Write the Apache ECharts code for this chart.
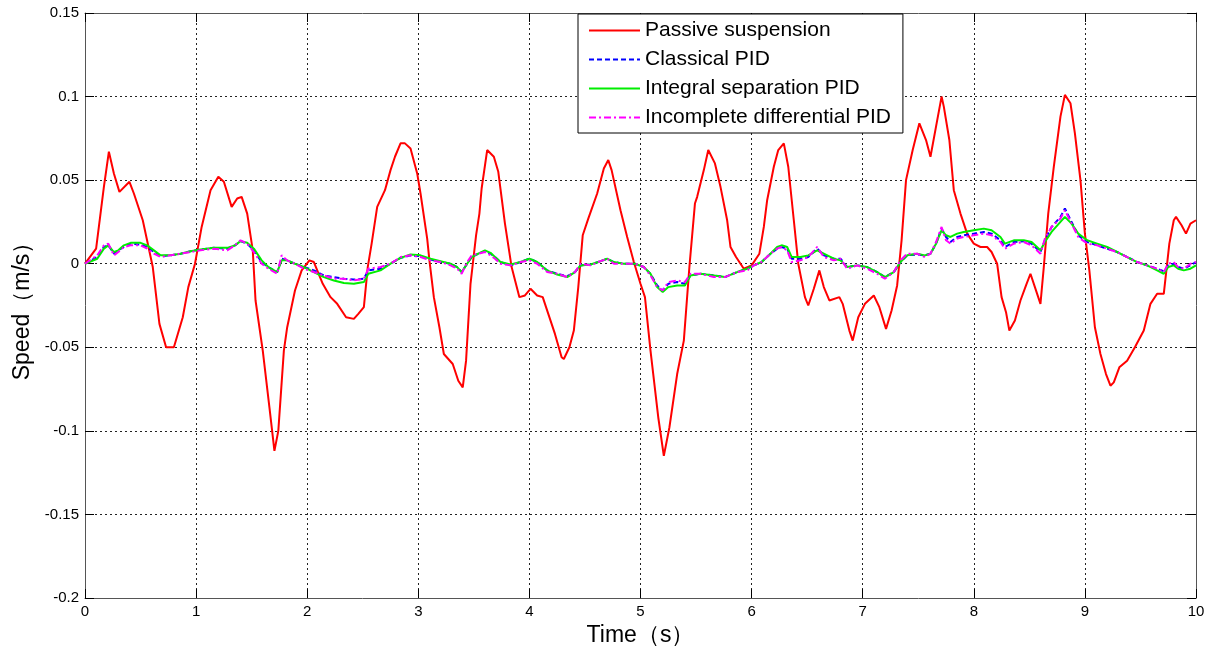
<!DOCTYPE html>
<html>
<head>
<meta charset="utf-8">
<script src="https://cdn.jsdelivr.net/npm/echarts@6/dist/echarts.min.js"></script>
<style>html,body{margin:0;padding:0;background:#fff}#c{width:1210px;height:653px}</style>
</head>
<body>
<div id="c"></div>
<script>
var seriesNames = ['Passive suspension', 'Classical PID', 'Integral separation PID', 'Incomplete differential PID'];
var xTicks = [0,1,2,3,4,5,6,7,8,9,10];

var passive = [[0,0],[0.1,0.009],[0.17,0.046],[0.215,0.067],[0.26,0.054],[0.31,0.043],[0.4,0.049],[0.44,0.042],[0.52,0.026],[0.61,-0.002],[0.67,-0.036],[0.73,-0.050],[0.8,-0.050],[0.88,-0.032],[0.93,-0.014],[0.99,0],[1.05,0.022],[1.13,0.044],[1.2,0.052],[1.25,0.049],[1.32,0.034],[1.37,0.039],[1.41,0.040],[1.46,0.030],[1.51,0.008],[1.535,-0.022],[1.6,-0.052],[1.66,-0.086],[1.705,-0.112],[1.74,-0.10],[1.79,-0.052],[1.82,-0.038],[1.89,-0.016],[1.95,-0.004],[2.02,0.002],[2.06,0.001],[2.14,-0.012],[2.21,-0.020],[2.27,-0.024],[2.35,-0.032],[2.42,-0.033],[2.46,-0.030],[2.51,-0.026],[2.545,-0.002],[2.58,0.012],[2.63,0.034],[2.7,0.044],[2.75,0.056],[2.79,0.064],[2.84,0.072],[2.88,0.072],[2.93,0.069],[2.99,0.054],[3.02,0.042],[3.08,0.015],[3.1,0.002],[3.14,-0.020],[3.19,-0.038],[3.23,-0.054],[3.31,-0.060],[3.36,-0.070],[3.4,-0.074],[3.43,-0.058],[3.47,-0.012],[3.52,0.017],[3.55,0.030],[3.57,0.045],[3.62,0.068],[3.68,0.064],[3.72,0.055],[3.78,0.024],[3.84,-0.002],[3.91,-0.020],[3.96,-0.019],[4.01,-0.015],[4.07,-0.019],[4.12,-0.020],[4.17,-0.030],[4.23,-0.042],[4.29,-0.056],[4.31,-0.057],[4.36,-0.050],[4.4,-0.040],[4.44,-0.014],[4.48,0.017],[4.53,0.027],[4.61,0.042],[4.67,0.057],[4.71,0.062],[4.74,0.056],[4.82,0.032],[4.88,0.016],[4.94,0.001],[5.0,-0.012],[5.04,-0.020],[5.09,-0.052],[5.16,-0.092],[5.21,-0.115],[5.26,-0.098],[5.33,-0.066],[5.39,-0.046],[5.44,-0.002],[5.49,0.036],[5.51,0.040],[5.57,0.056],[5.61,0.068],[5.67,0.060],[5.72,0.046],[5.78,0.026],[5.81,0.010],[5.86,0.004],[5.93,-0.003],[6.0,-0.001],[6.07,0.006],[6.11,0.022],[6.14,0.038],[6.2,0.058],[6.24,0.068],[6.29,0.072],[6.33,0.058],[6.38,0.026],[6.42,0.0],[6.48,-0.020],[6.51,-0.025],[6.56,-0.015],[6.61,-0.004],[6.65,-0.014],[6.7,-0.022],[6.79,-0.020],[6.82,-0.024],[6.88,-0.040],[6.91,-0.046],[6.96,-0.032],[7.02,-0.024],[7.1,-0.019],[7.15,-0.026],[7.21,-0.039],[7.26,-0.028],[7.31,-0.013],[7.35,0.014],[7.39,0.050],[7.45,0.068],[7.51,0.084],[7.57,0.074],[7.61,0.064],[7.66,0.082],[7.71,0.100],[7.73,0.094],[7.78,0.074],[7.82,0.044],[7.88,0.030],[7.94,0.018],[8.0,0.012],[8.06,0.010],[8.12,0.010],[8.16,0.007],[8.21,0.0],[8.25,-0.020],[8.29,-0.029],[8.32,-0.040],[8.37,-0.034],[8.42,-0.022],[8.47,-0.013],[8.51,-0.006],[8.55,-0.014],[8.6,-0.024],[8.63,-0.002],[8.67,0.030],[8.72,0.058],[8.78,0.088],[8.82,0.101],[8.87,0.096],[8.91,0.078],[8.96,0.050],[9.0,0.018],[9.04,-0.004],[9.09,-0.038],[9.14,-0.054],[9.19,-0.066],[9.23,-0.073],[9.26,-0.071],[9.31,-0.062],[9.38,-0.058],[9.45,-0.050],[9.53,-0.040],[9.59,-0.024],[9.65,-0.018],[9.71,-0.018],[9.76,0.012],[9.8,0.026],[9.82,0.028],[9.87,0.023],[9.91,0.018],[9.95,0.024],[10,0.026]];

var classical = [[0,0],[0.11,0.004],[0.17,0.010],[0.21,0.011],[0.26,0.006],[0.3,0.008],[0.35,0.010],[0.41,0.012],[0.5,0.0115],[0.56,0.010],[0.62,0.007],[0.68,0.0045],[0.77,0.005],[0.86,0.006],[0.95,0.0075],[1.04,0.0085],[1.16,0.0095],[1.28,0.009],[1.35,0.011],[1.4,0.0135],[1.46,0.012],[1.52,0.008],[1.59,0.001],[1.65,-0.002],[1.73,-0.005],[1.77,0.003],[1.82,0.002],[1.89,0],[1.97,-0.002],[2.06,-0.004],[2.15,-0.007],[2.24,-0.008],[2.33,-0.009],[2.42,-0.0095],[2.51,-0.009],[2.55,-0.004],[2.66,-0.003],[2.75,0],[2.84,0.0035],[2.93,0.005],[3.02,0.0045],[3.11,0.0025],[3.2,0.001],[3.29,0],[3.35,-0.002],[3.39,-0.005],[3.44,0],[3.48,0.004],[3.54,0.006],[3.6,0.0075],[3.65,0.006],[3.69,0.004],[3.74,0.001],[3.83,-0.001],[3.92,0.001],[4.0,0.003],[4.07,0.001],[4.16,-0.004],[4.25,-0.006],[4.34,-0.0075],[4.41,-0.005],[4.46,-0.001],[4.55,-0.0005],[4.62,0.001],[4.7,0.003],[4.76,0.001],[4.85,0],[4.95,0],[5.03,-0.002],[5.09,-0.006],[5.15,-0.013],[5.2,-0.016],[5.25,-0.012],[5.33,-0.011],[5.4,-0.012],[5.45,-0.007],[5.54,-0.006],[5.66,-0.007],[5.76,-0.008],[5.87,-0.005],[5.96,-0.003],[6.02,-0.001],[6.09,0.001],[6.17,0.006],[6.23,0.009],[6.27,0.010],[6.32,0.009],[6.36,0.003],[6.44,0.003],[6.51,0.004],[6.59,0.009],[6.65,0.005],[6.74,0.003],[6.8,0.003],[6.86,-0.002],[6.95,-0.001],[7.04,-0.002],[7.13,-0.005],[7.2,-0.008],[7.28,-0.005],[7.34,0.001],[7.4,0.005],[7.49,0.0055],[7.56,0.005],[7.61,0.006],[7.66,0.012],[7.71,0.021],[7.75,0.016],[7.79,0.013],[7.85,0.016],[7.91,0.017],[8.0,0.018],[8.09,0.019],[8.16,0.018],[8.24,0.014],[8.28,0.010],[8.36,0.013],[8.45,0.0135],[8.52,0.012],[8.6,0.007],[8.64,0.014],[8.7,0.022],[8.78,0.028],[8.82,0.033],[8.88,0.025],[8.94,0.017],[9.02,0.013],[9.11,0.011],[9.2,0.009],[9.29,0.007],[9.38,0.004],[9.47,0.001],[9.56,-0.001],[9.65,-0.003],[9.71,-0.0045],[9.75,-0.001],[9.8,0],[9.84,-0.002],[9.89,-0.003],[9.95,-0.001],[10,0.001]];

var integralSep = [[0,0],[0.11,0.003],[0.17,0.009],[0.21,0.011],[0.26,0.007],[0.3,0.008],[0.35,0.011],[0.41,0.0125],[0.5,0.0125],[0.56,0.011],[0.62,0.008],[0.68,0.005],[0.77,0.005],[0.86,0.006],[0.95,0.0075],[1.04,0.0085],[1.16,0.0095],[1.28,0.0095],[1.35,0.011],[1.4,0.0135],[1.46,0.0125],[1.52,0.009],[1.59,0.002],[1.65,-0.002],[1.73,-0.005],[1.77,0.002],[1.82,0.002],[1.89,0],[1.97,-0.002],[2.06,-0.005],[2.15,-0.008],[2.24,-0.010],[2.33,-0.0115],[2.42,-0.012],[2.51,-0.011],[2.55,-0.006],[2.66,-0.004],[2.75,0],[2.84,0.0035],[2.93,0.0055],[3.02,0.005],[3.11,0.003],[3.2,0.0015],[3.29,0],[3.35,-0.002],[3.39,-0.005],[3.44,0],[3.48,0.004],[3.54,0.006],[3.6,0.008],[3.65,0.0065],[3.69,0.004],[3.74,0.001],[3.83,-0.0005],[3.92,0.001],[4.0,0.003],[4.07,0.001],[4.16,-0.004],[4.25,-0.0065],[4.34,-0.008],[4.41,-0.005],[4.46,-0.001],[4.55,-0.0005],[4.62,0.001],[4.7,0.003],[4.76,0.001],[4.85,0],[4.95,0],[5.03,-0.002],[5.09,-0.006],[5.15,-0.014],[5.2,-0.017],[5.25,-0.014],[5.33,-0.013],[5.4,-0.013],[5.45,-0.007],[5.54,-0.006],[5.66,-0.007],[5.76,-0.008],[5.87,-0.005],[5.96,-0.003],[6.02,-0.001],[6.09,0.001],[6.17,0.006],[6.23,0.010],[6.27,0.011],[6.32,0.010],[6.36,0.004],[6.44,0.004],[6.51,0.005],[6.59,0.008],[6.65,0.006],[6.74,0.003],[6.8,0.002],[6.86,-0.002],[6.95,-0.001],[7.04,-0.002],[7.13,-0.005],[7.2,-0.008],[7.28,-0.005],[7.34,0.001],[7.4,0.005],[7.49,0.006],[7.56,0.005],[7.61,0.006],[7.66,0.012],[7.71,0.020],[7.75,0.017],[7.79,0.016],[7.85,0.018],[7.91,0.019],[8.0,0.020],[8.09,0.021],[8.16,0.020],[8.24,0.016],[8.28,0.012],[8.36,0.014],[8.45,0.014],[8.52,0.013],[8.6,0.008],[8.64,0.013],[8.7,0.019],[8.78,0.025],[8.82,0.028],[8.88,0.024],[8.94,0.018],[9.02,0.014],[9.11,0.012],[9.2,0.010],[9.29,0.007],[9.38,0.004],[9.47,0.001],[9.56,-0.001],[9.65,-0.004],[9.71,-0.006],[9.75,-0.002],[9.8,-0.001],[9.84,-0.003],[9.89,-0.004],[9.95,-0.003],[10,-0.001]];

var incomplete = [[0,0],[0.11,0.005],[0.17,0.011],[0.21,0.012],[0.26,0.005],[0.3,0.007],[0.35,0.010],[0.41,0.011],[0.5,0.011],[0.56,0.009],[0.62,0.006],[0.68,0.004],[0.77,0.005],[0.86,0.006],[0.95,0.007],[1.04,0.008],[1.16,0.009],[1.28,0.008],[1.35,0.011],[1.4,0.014],[1.46,0.012],[1.52,0.007],[1.59,0.0],[1.65,-0.003],[1.73,-0.006],[1.77,0.005],[1.82,0.002],[1.89,0],[1.97,-0.003],[2.06,-0.005],[2.15,-0.007],[2.24,-0.009],[2.33,-0.009],[2.42,-0.010],[2.51,-0.009],[2.55,-0.003],[2.66,-0.002],[2.75,0],[2.84,0.004],[2.93,0.005],[3.02,0.004],[3.11,0.002],[3.2,0.001],[3.29,-0.001],[3.35,-0.003],[3.39,-0.006],[3.44,0.001],[3.48,0.005],[3.54,0.006],[3.6,0.007],[3.65,0.005],[3.69,0.003],[3.74,0.0],[3.83,-0.001],[3.92,0.001],[4.0,0.002],[4.07,0.0],[4.16,-0.005],[4.25,-0.006],[4.34,-0.008],[4.41,-0.005],[4.46,0.0],[4.55,-0.001],[4.62,0.001],[4.7,0.003],[4.76,0.0],[4.85,0],[4.95,0],[5.03,-0.002],[5.09,-0.007],[5.15,-0.014],[5.2,-0.016],[5.25,-0.011],[5.33,-0.010],[5.4,-0.011],[5.45,-0.006],[5.54,-0.006],[5.66,-0.008],[5.76,-0.008],[5.87,-0.005],[5.96,-0.004],[6.02,-0.001],[6.09,0.001],[6.17,0.006],[6.23,0.009],[6.27,0.010],[6.32,0.008],[6.36,0.001],[6.44,0.002],[6.51,0.004],[6.59,0.010],[6.65,0.004],[6.74,0.002],[6.8,0.003],[6.86,-0.003],[6.95,-0.001],[7.04,-0.003],[7.13,-0.006],[7.2,-0.009],[7.28,-0.005],[7.34,0.002],[7.4,0.006],[7.49,0.006],[7.56,0.004],[7.61,0.006],[7.66,0.013],[7.71,0.022],[7.75,0.014],[7.79,0.012],[7.85,0.015],[7.91,0.016],[8.0,0.017],[8.09,0.018],[8.16,0.017],[8.24,0.013],[8.28,0.009],[8.36,0.012],[8.45,0.013],[8.52,0.011],[8.6,0.006],[8.64,0.015],[8.7,0.022],[8.78,0.027],[8.82,0.032],[8.88,0.024],[8.94,0.016],[9.02,0.012],[9.11,0.011],[9.2,0.009],[9.29,0.007],[9.38,0.004],[9.47,0.001],[9.56,-0.001],[9.65,-0.003],[9.71,-0.005],[9.75,0.0],[9.8,0.001],[9.84,-0.002],[9.89,-0.003],[9.95,0.0],[10,0.001]];

var chart = echarts.init(document.getElementById('c'));
var FONT = '"Liberation Sans", Arial, sans-serif';
var frameColor = '#555';
var gridDash = {color: '#222', width: 1, type: [2, 3]};

chart.setOption({
  animation: false,
  backgroundColor: '#fff',
  grid: {left: 85, right: 14, top: 13, bottom: 55},
  legend: {
    data: seriesNames,
    orient: 'vertical',
    left: 578, top: 14,
    padding: [6, 12, 5, 10],
    itemWidth: 51, itemHeight: 14, itemGap: 8,
    itemStyle: {opacity: 0},
    backgroundColor: '#fff',
    borderColor: '#000', borderWidth: 1,
    textStyle: {fontFamily: FONT, fontSize: 21, color: '#000', lineHeight: 21}
  },
  xAxis: [{
    type: 'value', min: 0, max: 10, interval: 1,
    name: 'Time（s）', nameLocation: 'middle', nameGap: 25,
    nameTextStyle: {fontFamily: FONT, fontSize: 23, color: '#000'},
    axisLine: {show: true, onZero: false, lineStyle: {color: frameColor, width: 1}},
    axisTick: {show: true, inside: true, length: 9, lineStyle: {color: '#000'}},
    axisLabel: {fontFamily: FONT, fontSize: 15, color: '#000', margin: 6,
      formatter: function (v) { return xTicks.indexOf(v) >= 0 ? String(v) : ''; }},
    splitLine: {show: true, lineStyle: gridDash}
  }, {
    type: 'value', min: 0, max: 10, interval: 1, position: 'top',
    axisLine: {show: true, onZero: false, lineStyle: {color: frameColor, width: 1}},
    axisTick: {show: true, inside: true, length: 9, lineStyle: {color: '#000'}},
    axisLabel: {show: false}, splitLine: {show: false}
  }],
  yAxis: [{
    type: 'value', min: -0.2, max: 0.15, interval: 0.05,
    name: 'Speed（m/s）', nameLocation: 'middle', nameGap: 50,
    nameTextStyle: {fontFamily: FONT, fontSize: 23, color: '#000'},
    axisLine: {show: true, onZero: false, lineStyle: {color: frameColor, width: 1}},
    axisTick: {show: true, inside: true, length: 9, lineStyle: {color: '#000'}},
    axisLabel: {fontFamily: FONT, fontSize: 15, color: '#000', margin: 6},
    splitLine: {show: true, lineStyle: gridDash}
  }, {
    type: 'value', min: -0.2, max: 0.15, interval: 0.05, position: 'right',
    axisLine: {show: true, onZero: false, lineStyle: {color: frameColor, width: 1}},
    axisTick: {show: true, inside: true, length: 9, lineStyle: {color: '#000'}},
    axisLabel: {show: false}, splitLine: {show: false}
  }],
  series: [
    {name: seriesNames[0], type: 'line', data: passive, showSymbol: false, symbol: 'none',
     lineStyle: {color: '#ff0000', width: 2}, itemStyle: {color: '#ff0000'}, z: 2},
    {name: seriesNames[1], type: 'line', data: classical, showSymbol: false, symbol: 'none',
     lineStyle: {color: '#0000ff', width: 2, type: [5, 3]}, itemStyle: {color: '#0000ff'}, z: 3},
    {name: seriesNames[2], type: 'line', data: integralSep, showSymbol: false, symbol: 'none',
     lineStyle: {color: '#00ee00', width: 2}, itemStyle: {color: '#00ee00'}, z: 4},
    {name: seriesNames[3], type: 'line', data: incomplete, showSymbol: false, symbol: 'none',
     lineStyle: {color: '#ff00ff', width: 2, type: [7, 3, 2, 3]}, itemStyle: {color: '#ff00ff'}, z: 5}
  ]
});
</script>
</body>
</html>
